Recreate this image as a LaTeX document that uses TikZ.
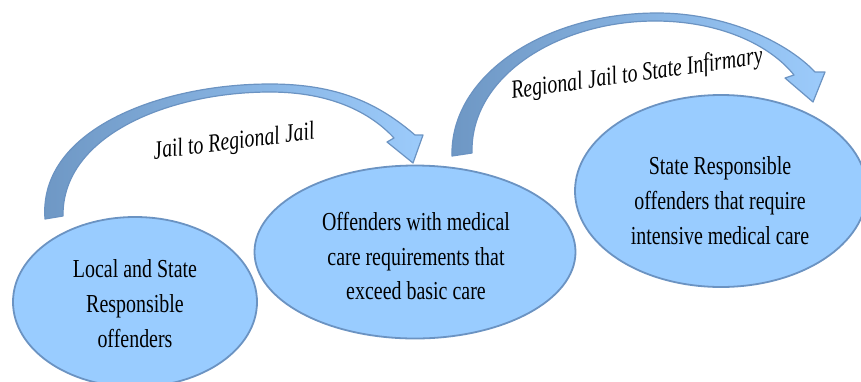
\documentclass[tikz,border=0pt]{standalone}
\usepackage{fontspec}
\setmainfont{Liberation Serif}[FakeStretch=0.77]
\usetikzlibrary{shapes.geometric}

\definecolor{ovalfill}{HTML}{99CCFF}
\definecolor{ovalline}{HTML}{6B93C2}
\definecolor{bendshade}{HTML}{6E97C4}
\definecolor{bendlight}{HTML}{9CCBFB}

\begin{document}
\begin{tikzpicture}[x=1bp,y=-1bp,
  oval/.style={ellipse,draw=ovalline,fill=ovalfill,line width=1.8bp,inner sep=0pt},
  ovaltext/.style={align=center,font=\fontsize{26}{35}\selectfont},
  hop/.style={font=\fontsize{26}{30}\selectfont\itshape},
  bendarrow/.style={draw=ovalline,line width=1.2bp,line join=round,
    left color=bendshade,right color=bendlight}]

% frame
\useasboundingbox (0,0) rectangle (861,381);
\clip (0,0) rectangle (861,381);

% curved arrows
\path[bendarrow] (45,219) .. controls (38,130) and (160,84) .. (270,84)
   .. controls (340,84) and (380,105) .. (415,135)
   -- (423,135) -- (413,163) -- (387,142) -- (394,138)
   .. controls (370,112) and (330,92) .. (270,92)
   .. controls (170,92) and (62,135) .. (63,216) -- cycle;
\path[bendarrow] (452,156) .. controls (450,75) and (545,13) .. (657,13)
   .. controls (730,13) and (790,45) .. (815,72)
   -- (825,72) -- (813,102) -- (785,78) -- (794,75)
   .. controls (770,45) and (720,21) .. (655,21)
   .. controls (560,21) and (470,75) .. (472,153) -- cycle;

% arrow labels
\node[hop,rotate=7] (jail-lbl) at (234,143) {Jail to Regional Jail};
\node[hop,rotate=8] (infirm-lbl) at (637,75) {Regional Jail to State Infirmary};

% ellipses
\node[oval,minimum width=244bp,minimum height=170bp] (local) at (135,302) {};
\node[oval,minimum width=321bp,minimum height=173bp] (regional) at (415,252) {};
\node[oval,minimum width=292bp,minimum height=192bp] (infirmary) at (721,191) {};

% ellipse texts
\node[ovaltext] (local-txt) at (135,304)
   {Local and State\\Responsible\\offenders};
\node[ovaltext] (regional-txt) at (416,256)
   {Offenders with medical\\care requirements that\\exceed basic care};
\node[ovaltext] (infirmary-txt) at (720,201)
   {State Responsible\\offenders that require\\intensive medical care};

\end{tikzpicture}
\end{document}
